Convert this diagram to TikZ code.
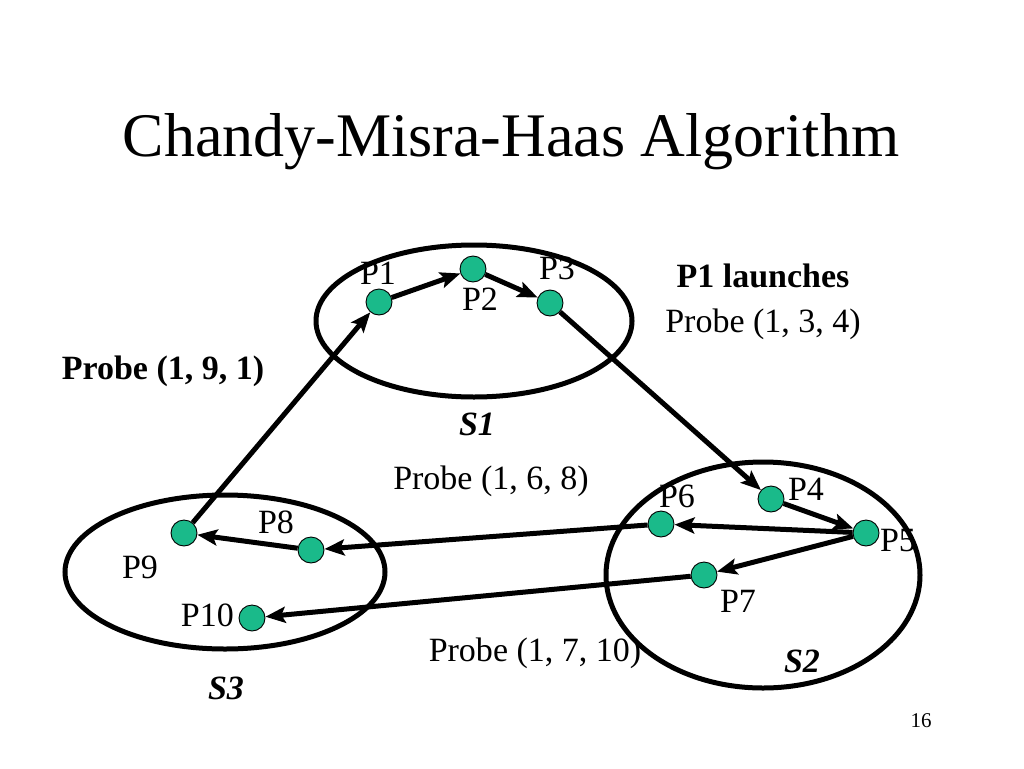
\documentclass[tikz,border=0pt]{standalone}
\usepackage{fontspec}
\setmainfont{Liberation Serif}
\usetikzlibrary{arrows.meta}
\definecolor{procgreen}{RGB}{26,186,138}
\begin{document}
\begin{tikzpicture}[x=1pt,y=-1pt,
  proc/.style={circle,draw=black,line width=0.9pt,fill=procgreen,minimum size=26pt,inner sep=0pt},
  lbl/.style={font=\fontsize{34}{36}\selectfont,inner sep=0pt},
  site/.style={draw=black,line width=5pt},
  msg/.style={line width=5pt,-{Stealth[length=20pt,width=16pt,inset=4pt]}}]
\useasboundingbox[fill=white] (0,0) rectangle (1024,768);
\node[font=\fontsize{62}{64}\selectfont,anchor=base,inner sep=0pt] (title) at (511,156) {Chandy-Misra-Haas Algorithm};
% sites
\draw[site] (474,321) ellipse [x radius=158,y radius=76];
\draw[site] (763,575) ellipse [x radius=157,y radius=113];
\draw[site] (225,572) ellipse [x radius=160,y radius=77];
% processes
\node[proc] (p1) at (379,302) {};
\node[proc] (p2) at (473,269) {};
\node[proc] (p3) at (550,303) {};
\node[proc] (p4) at (771,499) {};
\node[proc] (p5) at (866,533) {};
\node[proc] (p6) at (661,524) {};
\node[proc] (p7) at (704,575) {};
\node[proc] (p8) at (311,550) {};
\node[proc] (p9) at (184,533) {};
\node[proc] (p10) at (252,618) {};
% process labels
\node[lbl] (l1) at (378,273) {P1};
\node[lbl] (l2) at (480,299) {P2};
\node[lbl] (l3) at (557,268) {P3};
\node[lbl] (l4) at (806,489) {P4};
\node[lbl] (l5) at (898,541) {P5};
\node[lbl] (l6) at (677,496) {P6};
\node[lbl] (l7) at (738,601) {P7};
\node[lbl] (l8) at (276,522) {P8};
\node[lbl] (l9) at (140,567) {P9};
\node[lbl,anchor=east] (l10) at (234,615) {P10};
% other texts
\node[lbl,font=\fontsize{34}{36}\selectfont\bfseries] (launch) at (763,276) {P1 launches};
\node[lbl] (pr134) at (763,324) {Probe (1, 3, 4)};
\node[lbl,font=\fontsize{34}{36}\selectfont\bfseries] (pr191) at (163,371) {Probe (1, 9, 1)};
\node[lbl,font=\fontsize{34}{36}\selectfont\bfseries\itshape] (s1) at (477,424) {S1};
\node[lbl] (pr168) at (491,481) {Probe (1, 6, 8)};
\node[lbl] (pr1710) at (535,653) {Probe (1, 7, 10)};
\node[lbl,font=\fontsize{34}{36}\selectfont\bfseries\itshape] (s2) at (802,661) {S2};
\node[lbl,font=\fontsize{34}{36}\selectfont\bfseries\itshape] (s3) at (226,688) {S3};
\node[lbl,font=\fontsize{21}{23}\selectfont] (pg) at (921,721) {16};
% messages
\draw[msg] (p1) -- (p2);
\draw[msg] (p2) -- (p3);
\draw[msg] (p3) -- (p4);
\draw[msg] (p4) -- (p5);
\draw[msg] (p5) -- (p6);
\draw[msg] (p5) -- (p7);
\draw[msg] (p6) -- (p8);
\draw[msg] (p7) -- (p10);
\draw[msg] (p8) -- (p9);
\draw[msg] (p9) -- (p1);
\end{tikzpicture}
\end{document}
